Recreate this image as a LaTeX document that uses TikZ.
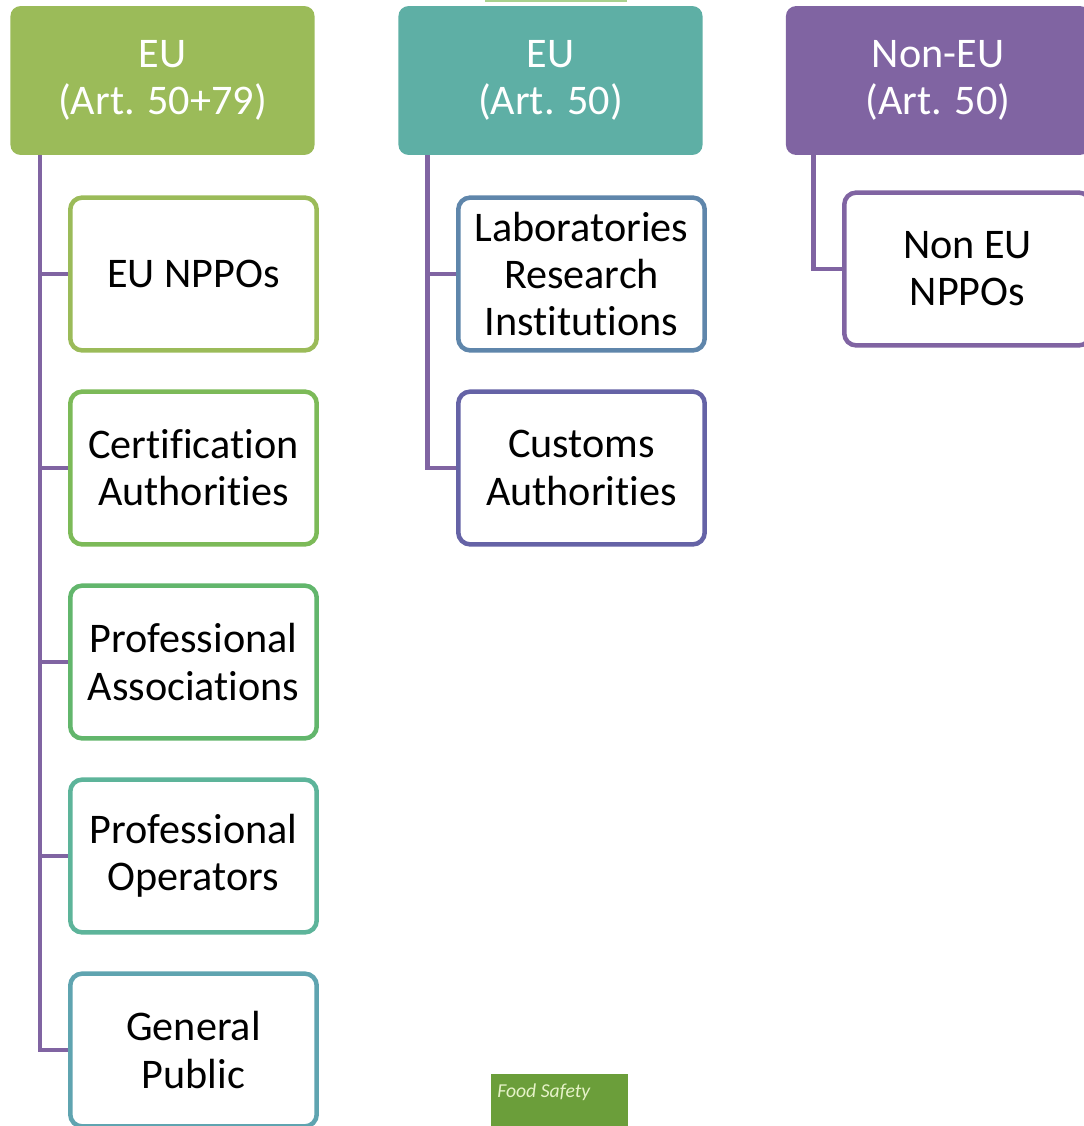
\documentclass[tikz,border=0pt]{standalone}
\usepackage{fontspec}
\setmainfont[Ligatures=NoCommon]{Carlito}
\definecolor{hdrgreen}{HTML}{9BBB59}
\definecolor{hdrteal}{HTML}{5EAFA5}
\definecolor{hdrpurple}{HTML}{8064A2}
\definecolor{nppocol}{HTML}{9BBB59}
\definecolor{certcol}{HTML}{7CBA58}
\definecolor{assoccol}{HTML}{62B66C}
\definecolor{opercol}{HTML}{5DB49A}
\definecolor{publiccol}{HTML}{5FA4B0}
\definecolor{labcol}{HTML}{5F86AB}
\definecolor{customscol}{HTML}{6563A6}
\definecolor{badgegreen}{HTML}{6B9E3A}
\definecolor{badgetext}{HTML}{E6F2C8}
\definecolor{toplinecol}{HTML}{A9D18E}

\begin{document}
\begin{tikzpicture}[x=0.025cm,y=-0.025cm,
    hdr/.style={fill=#1, text=white, rounded corners=0.25cm, minimum width=7.6cm,
        minimum height=3.72cm, align=center, font=\fontsize{30}{33.5}\selectfont},
    member/.style={draw=#1, fill=white, line width=3.2pt, rounded corners=0.3cm,
        minimum width=6.16cm, minimum height=3.82cm, align=center,
        font=\fontsize{30}{33.5}\selectfont},
    link/.style={draw=hdrpurple, line width=3.2pt}]
    \useasboundingbox (0,0) rectangle (1084,1126);
    % top strip
    \draw[toplinecol, line width=1.5pt] (485,1) -- (627,1);
    % headers
    \node[hdr=hdrgreen] (eu79) at (162.5,80.5) {EU\\(Art. 50+79)};
    \node[hdr=hdrteal] (eu50) at (550.5,80.5) {EU\\(Art. 50)};
    \node[hdr=hdrpurple] (noneu) at (938,80.5) {Non-EU\\(Art. 50)};
    % members
    \node[member=nppocol] (nppo) at (193.5,274) {EU NPPOs};
    \node[member=certcol] (cert) at (193.5,468) {Certification\\Authorities};
    \node[member=assoccol] (assoc) at (193.5,662) {Professional\\Associations};
    \node[member=opercol] (oper) at (193.5,856) {Professional\\Operators};
    \node[member=publiccol] (public) at (193.5,1050) {General\\Public};
    \node[member=labcol] (lab) at (581.5,274) {Laboratories\\Research\\Institutions};
    \node[member=customscol] (customs) at (581.5,468) {Customs\\Authorities};
    \node[member=hdrpurple] (extnppo) at (967.5,269) {Non EU\\NPPOs};
    % links
    \draw[link] ([xshift=0.75cm]eu79.south west) |- (nppo.west);
    \draw[link] ([xshift=0.75cm]eu79.south west) |- (cert.west);
    \draw[link] ([xshift=0.75cm]eu79.south west) |- (assoc.west);
    \draw[link] ([xshift=0.75cm]eu79.south west) |- (oper.west);
    \draw[link] ([xshift=0.75cm]eu79.south west) |- (public.west);
    \draw[link] ([xshift=0.73cm]eu50.south west) |- (lab.west);
    \draw[link] ([xshift=0.73cm]eu50.south west) |- (customs.west);
    \draw[link] ([xshift=0.7cm]noneu.south west) |- (extnppo.west);
    % badge
    \fill[badgegreen] (491,1074) rectangle (628,1126);
    \node[anchor=north west, inner sep=0pt, text=badgetext,
        font=\fontsize{14}{16}\selectfont\itshape] (badge) at (497,1084) {Food Safety};
\end{tikzpicture}
\end{document}
